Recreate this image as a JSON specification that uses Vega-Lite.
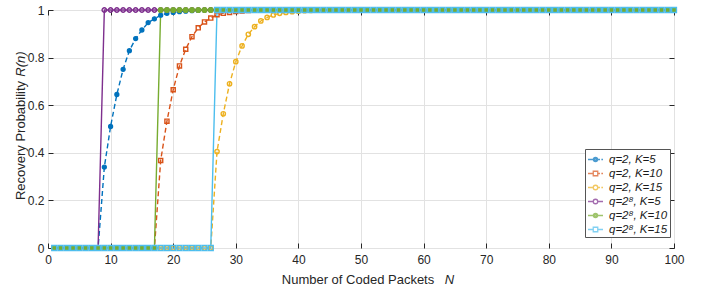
{
"$schema": "https://vega.github.io/schema/vega-lite/v6.json",
"width": 626,
"height": 238,
"autosize": {"type": "none"},
"padding": {"left": 48, "top": 10, "right": 37, "bottom": 41},
"background": "white",
"data": {"values": [
{"N":1,"s":"A","R":0},{"N":2,"s":"A","R":0},{"N":3,"s":"A","R":0},{"N":4,"s":"A","R":0},{"N":5,"s":"A","R":0},{"N":6,"s":"A","R":0},{"N":7,"s":"A","R":0},{"N":8,"s":"A","R":0},{"N":9,"s":"A","R":0.34},{"N":10,"s":"A","R":0.511},
{"N":11,"s":"A","R":0.645},{"N":12,"s":"A","R":0.751},{"N":13,"s":"A","R":0.829},{"N":14,"s":"A","R":0.88},{"N":15,"s":"A","R":0.916},{"N":16,"s":"A","R":0.947},{"N":17,"s":"A","R":0.963},{"N":18,"s":"A","R":0.978},{"N":19,"s":"A","R":0.986},{"N":20,"s":"A","R":0.99},
{"N":21,"s":"A","R":0.993},{"N":22,"s":"A","R":0.995},{"N":23,"s":"A","R":0.997},{"N":24,"s":"A","R":0.998},{"N":25,"s":"A","R":0.999},{"N":26,"s":"A","R":1},{"N":27,"s":"A","R":1},{"N":28,"s":"A","R":1},{"N":29,"s":"A","R":1},{"N":30,"s":"A","R":1},
{"N":31,"s":"A","R":1},{"N":32,"s":"A","R":1},{"N":33,"s":"A","R":1},{"N":34,"s":"A","R":1},{"N":35,"s":"A","R":1},{"N":36,"s":"A","R":1},{"N":37,"s":"A","R":1},{"N":38,"s":"A","R":1},{"N":39,"s":"A","R":1},{"N":40,"s":"A","R":1},
{"N":41,"s":"A","R":1},{"N":42,"s":"A","R":1},{"N":43,"s":"A","R":1},{"N":44,"s":"A","R":1},{"N":45,"s":"A","R":1},{"N":46,"s":"A","R":1},{"N":47,"s":"A","R":1},{"N":48,"s":"A","R":1},{"N":49,"s":"A","R":1},{"N":50,"s":"A","R":1},
{"N":51,"s":"A","R":1},{"N":52,"s":"A","R":1},{"N":53,"s":"A","R":1},{"N":54,"s":"A","R":1},{"N":55,"s":"A","R":1},{"N":56,"s":"A","R":1},{"N":57,"s":"A","R":1},{"N":58,"s":"A","R":1},{"N":59,"s":"A","R":1},{"N":60,"s":"A","R":1},
{"N":61,"s":"A","R":1},{"N":62,"s":"A","R":1},{"N":63,"s":"A","R":1},{"N":64,"s":"A","R":1},{"N":65,"s":"A","R":1},{"N":66,"s":"A","R":1},{"N":67,"s":"A","R":1},{"N":68,"s":"A","R":1},{"N":69,"s":"A","R":1},{"N":70,"s":"A","R":1},
{"N":71,"s":"A","R":1},{"N":72,"s":"A","R":1},{"N":73,"s":"A","R":1},{"N":74,"s":"A","R":1},{"N":75,"s":"A","R":1},{"N":76,"s":"A","R":1},{"N":77,"s":"A","R":1},{"N":78,"s":"A","R":1},{"N":79,"s":"A","R":1},{"N":80,"s":"A","R":1},
{"N":81,"s":"A","R":1},{"N":82,"s":"A","R":1},{"N":83,"s":"A","R":1},{"N":84,"s":"A","R":1},{"N":85,"s":"A","R":1},{"N":86,"s":"A","R":1},{"N":87,"s":"A","R":1},{"N":88,"s":"A","R":1},{"N":89,"s":"A","R":1},{"N":90,"s":"A","R":1},
{"N":91,"s":"A","R":1},{"N":92,"s":"A","R":1},{"N":93,"s":"A","R":1},{"N":94,"s":"A","R":1},{"N":95,"s":"A","R":1},{"N":96,"s":"A","R":1},{"N":97,"s":"A","R":1},{"N":98,"s":"A","R":1},{"N":99,"s":"A","R":1},{"N":100,"s":"A","R":1},
{"N":1,"s":"B","R":0},{"N":2,"s":"B","R":0},{"N":3,"s":"B","R":0},{"N":4,"s":"B","R":0},{"N":5,"s":"B","R":0},{"N":6,"s":"B","R":0},{"N":7,"s":"B","R":0},{"N":8,"s":"B","R":0},{"N":9,"s":"B","R":0},{"N":10,"s":"B","R":0},
{"N":11,"s":"B","R":0},{"N":12,"s":"B","R":0},{"N":13,"s":"B","R":0},{"N":14,"s":"B","R":0},{"N":15,"s":"B","R":0},{"N":16,"s":"B","R":0},{"N":17,"s":"B","R":0},{"N":18,"s":"B","R":0.368},{"N":19,"s":"B","R":0.533},{"N":20,"s":"B","R":0.665},
{"N":21,"s":"B","R":0.765},{"N":22,"s":"B","R":0.835},{"N":23,"s":"B","R":0.888},{"N":24,"s":"B","R":0.925},{"N":25,"s":"B","R":0.95},{"N":26,"s":"B","R":0.966},{"N":27,"s":"B","R":0.98},{"N":28,"s":"B","R":0.986},{"N":29,"s":"B","R":0.99},{"N":30,"s":"B","R":0.994},
{"N":31,"s":"B","R":0.996},{"N":32,"s":"B","R":0.998},{"N":33,"s":"B","R":0.999},{"N":34,"s":"B","R":1},{"N":35,"s":"B","R":1},{"N":36,"s":"B","R":1},{"N":37,"s":"B","R":1},{"N":38,"s":"B","R":1},{"N":39,"s":"B","R":1},{"N":40,"s":"B","R":1},
{"N":41,"s":"B","R":1},{"N":42,"s":"B","R":1},{"N":43,"s":"B","R":1},{"N":44,"s":"B","R":1},{"N":45,"s":"B","R":1},{"N":46,"s":"B","R":1},{"N":47,"s":"B","R":1},{"N":48,"s":"B","R":1},{"N":49,"s":"B","R":1},{"N":50,"s":"B","R":1},
{"N":51,"s":"B","R":1},{"N":52,"s":"B","R":1},{"N":53,"s":"B","R":1},{"N":54,"s":"B","R":1},{"N":55,"s":"B","R":1},{"N":56,"s":"B","R":1},{"N":57,"s":"B","R":1},{"N":58,"s":"B","R":1},{"N":59,"s":"B","R":1},{"N":60,"s":"B","R":1},
{"N":61,"s":"B","R":1},{"N":62,"s":"B","R":1},{"N":63,"s":"B","R":1},{"N":64,"s":"B","R":1},{"N":65,"s":"B","R":1},{"N":66,"s":"B","R":1},{"N":67,"s":"B","R":1},{"N":68,"s":"B","R":1},{"N":69,"s":"B","R":1},{"N":70,"s":"B","R":1},
{"N":71,"s":"B","R":1},{"N":72,"s":"B","R":1},{"N":73,"s":"B","R":1},{"N":74,"s":"B","R":1},{"N":75,"s":"B","R":1},{"N":76,"s":"B","R":1},{"N":77,"s":"B","R":1},{"N":78,"s":"B","R":1},{"N":79,"s":"B","R":1},{"N":80,"s":"B","R":1},
{"N":81,"s":"B","R":1},{"N":82,"s":"B","R":1},{"N":83,"s":"B","R":1},{"N":84,"s":"B","R":1},{"N":85,"s":"B","R":1},{"N":86,"s":"B","R":1},{"N":87,"s":"B","R":1},{"N":88,"s":"B","R":1},{"N":89,"s":"B","R":1},{"N":90,"s":"B","R":1},
{"N":91,"s":"B","R":1},{"N":92,"s":"B","R":1},{"N":93,"s":"B","R":1},{"N":94,"s":"B","R":1},{"N":95,"s":"B","R":1},{"N":96,"s":"B","R":1},{"N":97,"s":"B","R":1},{"N":98,"s":"B","R":1},{"N":99,"s":"B","R":1},{"N":100,"s":"B","R":1},
{"N":1,"s":"C","R":0},{"N":2,"s":"C","R":0},{"N":3,"s":"C","R":0},{"N":4,"s":"C","R":0},{"N":5,"s":"C","R":0},{"N":6,"s":"C","R":0},{"N":7,"s":"C","R":0},{"N":8,"s":"C","R":0},{"N":9,"s":"C","R":0},{"N":10,"s":"C","R":0},
{"N":11,"s":"C","R":0},{"N":12,"s":"C","R":0},{"N":13,"s":"C","R":0},{"N":14,"s":"C","R":0},{"N":15,"s":"C","R":0},{"N":16,"s":"C","R":0},{"N":17,"s":"C","R":0},{"N":18,"s":"C","R":0},{"N":19,"s":"C","R":0},{"N":20,"s":"C","R":0},
{"N":21,"s":"C","R":0},{"N":22,"s":"C","R":0},{"N":23,"s":"C","R":0},{"N":24,"s":"C","R":0},{"N":25,"s":"C","R":0},{"N":26,"s":"C","R":0},{"N":27,"s":"C","R":0.405},{"N":28,"s":"C","R":0.564},{"N":29,"s":"C","R":0.69},{"N":30,"s":"C","R":0.783},
{"N":31,"s":"C","R":0.849},{"N":32,"s":"C","R":0.898},{"N":33,"s":"C","R":0.93},{"N":34,"s":"C","R":0.954},{"N":35,"s":"C","R":0.969},{"N":36,"s":"C","R":0.979},{"N":37,"s":"C","R":0.986},{"N":38,"s":"C","R":0.99},{"N":39,"s":"C","R":0.993},{"N":40,"s":"C","R":0.995},
{"N":41,"s":"C","R":0.997},{"N":42,"s":"C","R":0.998},{"N":43,"s":"C","R":0.999},{"N":44,"s":"C","R":1},{"N":45,"s":"C","R":1},{"N":46,"s":"C","R":1},{"N":47,"s":"C","R":1},{"N":48,"s":"C","R":1},{"N":49,"s":"C","R":1},{"N":50,"s":"C","R":1},
{"N":51,"s":"C","R":1},{"N":52,"s":"C","R":1},{"N":53,"s":"C","R":1},{"N":54,"s":"C","R":1},{"N":55,"s":"C","R":1},{"N":56,"s":"C","R":1},{"N":57,"s":"C","R":1},{"N":58,"s":"C","R":1},{"N":59,"s":"C","R":1},{"N":60,"s":"C","R":1},
{"N":61,"s":"C","R":1},{"N":62,"s":"C","R":1},{"N":63,"s":"C","R":1},{"N":64,"s":"C","R":1},{"N":65,"s":"C","R":1},{"N":66,"s":"C","R":1},{"N":67,"s":"C","R":1},{"N":68,"s":"C","R":1},{"N":69,"s":"C","R":1},{"N":70,"s":"C","R":1},
{"N":71,"s":"C","R":1},{"N":72,"s":"C","R":1},{"N":73,"s":"C","R":1},{"N":74,"s":"C","R":1},{"N":75,"s":"C","R":1},{"N":76,"s":"C","R":1},{"N":77,"s":"C","R":1},{"N":78,"s":"C","R":1},{"N":79,"s":"C","R":1},{"N":80,"s":"C","R":1},
{"N":81,"s":"C","R":1},{"N":82,"s":"C","R":1},{"N":83,"s":"C","R":1},{"N":84,"s":"C","R":1},{"N":85,"s":"C","R":1},{"N":86,"s":"C","R":1},{"N":87,"s":"C","R":1},{"N":88,"s":"C","R":1},{"N":89,"s":"C","R":1},{"N":90,"s":"C","R":1},
{"N":91,"s":"C","R":1},{"N":92,"s":"C","R":1},{"N":93,"s":"C","R":1},{"N":94,"s":"C","R":1},{"N":95,"s":"C","R":1},{"N":96,"s":"C","R":1},{"N":97,"s":"C","R":1},{"N":98,"s":"C","R":1},{"N":99,"s":"C","R":1},{"N":100,"s":"C","R":1},
{"N":1,"s":"D","R":0},{"N":2,"s":"D","R":0},{"N":3,"s":"D","R":0},{"N":4,"s":"D","R":0},{"N":5,"s":"D","R":0},{"N":6,"s":"D","R":0},{"N":7,"s":"D","R":0},{"N":8,"s":"D","R":0},{"N":9,"s":"D","R":1},{"N":10,"s":"D","R":1},
{"N":11,"s":"D","R":1},{"N":12,"s":"D","R":1},{"N":13,"s":"D","R":1},{"N":14,"s":"D","R":1},{"N":15,"s":"D","R":1},{"N":16,"s":"D","R":1},{"N":17,"s":"D","R":1},{"N":18,"s":"D","R":1},{"N":19,"s":"D","R":1},{"N":20,"s":"D","R":1},
{"N":21,"s":"D","R":1},{"N":22,"s":"D","R":1},{"N":23,"s":"D","R":1},{"N":24,"s":"D","R":1},{"N":25,"s":"D","R":1},{"N":26,"s":"D","R":1},{"N":27,"s":"D","R":1},{"N":28,"s":"D","R":1},{"N":29,"s":"D","R":1},{"N":30,"s":"D","R":1},
{"N":31,"s":"D","R":1},{"N":32,"s":"D","R":1},{"N":33,"s":"D","R":1},{"N":34,"s":"D","R":1},{"N":35,"s":"D","R":1},{"N":36,"s":"D","R":1},{"N":37,"s":"D","R":1},{"N":38,"s":"D","R":1},{"N":39,"s":"D","R":1},{"N":40,"s":"D","R":1},
{"N":41,"s":"D","R":1},{"N":42,"s":"D","R":1},{"N":43,"s":"D","R":1},{"N":44,"s":"D","R":1},{"N":45,"s":"D","R":1},{"N":46,"s":"D","R":1},{"N":47,"s":"D","R":1},{"N":48,"s":"D","R":1},{"N":49,"s":"D","R":1},{"N":50,"s":"D","R":1},
{"N":51,"s":"D","R":1},{"N":52,"s":"D","R":1},{"N":53,"s":"D","R":1},{"N":54,"s":"D","R":1},{"N":55,"s":"D","R":1},{"N":56,"s":"D","R":1},{"N":57,"s":"D","R":1},{"N":58,"s":"D","R":1},{"N":59,"s":"D","R":1},{"N":60,"s":"D","R":1},
{"N":61,"s":"D","R":1},{"N":62,"s":"D","R":1},{"N":63,"s":"D","R":1},{"N":64,"s":"D","R":1},{"N":65,"s":"D","R":1},{"N":66,"s":"D","R":1},{"N":67,"s":"D","R":1},{"N":68,"s":"D","R":1},{"N":69,"s":"D","R":1},{"N":70,"s":"D","R":1},
{"N":71,"s":"D","R":1},{"N":72,"s":"D","R":1},{"N":73,"s":"D","R":1},{"N":74,"s":"D","R":1},{"N":75,"s":"D","R":1},{"N":76,"s":"D","R":1},{"N":77,"s":"D","R":1},{"N":78,"s":"D","R":1},{"N":79,"s":"D","R":1},{"N":80,"s":"D","R":1},
{"N":81,"s":"D","R":1},{"N":82,"s":"D","R":1},{"N":83,"s":"D","R":1},{"N":84,"s":"D","R":1},{"N":85,"s":"D","R":1},{"N":86,"s":"D","R":1},{"N":87,"s":"D","R":1},{"N":88,"s":"D","R":1},{"N":89,"s":"D","R":1},{"N":90,"s":"D","R":1},
{"N":91,"s":"D","R":1},{"N":92,"s":"D","R":1},{"N":93,"s":"D","R":1},{"N":94,"s":"D","R":1},{"N":95,"s":"D","R":1},{"N":96,"s":"D","R":1},{"N":97,"s":"D","R":1},{"N":98,"s":"D","R":1},{"N":99,"s":"D","R":1},{"N":100,"s":"D","R":1},
{"N":1,"s":"E","R":0},{"N":2,"s":"E","R":0},{"N":3,"s":"E","R":0},{"N":4,"s":"E","R":0},{"N":5,"s":"E","R":0},{"N":6,"s":"E","R":0},{"N":7,"s":"E","R":0},{"N":8,"s":"E","R":0},{"N":9,"s":"E","R":0},{"N":10,"s":"E","R":0},
{"N":11,"s":"E","R":0},{"N":12,"s":"E","R":0},{"N":13,"s":"E","R":0},{"N":14,"s":"E","R":0},{"N":15,"s":"E","R":0},{"N":16,"s":"E","R":0},{"N":17,"s":"E","R":0},{"N":18,"s":"E","R":1},{"N":19,"s":"E","R":1},{"N":20,"s":"E","R":1},
{"N":21,"s":"E","R":1},{"N":22,"s":"E","R":1},{"N":23,"s":"E","R":1},{"N":24,"s":"E","R":1},{"N":25,"s":"E","R":1},{"N":26,"s":"E","R":1},{"N":27,"s":"E","R":1},{"N":28,"s":"E","R":1},{"N":29,"s":"E","R":1},{"N":30,"s":"E","R":1},
{"N":31,"s":"E","R":1},{"N":32,"s":"E","R":1},{"N":33,"s":"E","R":1},{"N":34,"s":"E","R":1},{"N":35,"s":"E","R":1},{"N":36,"s":"E","R":1},{"N":37,"s":"E","R":1},{"N":38,"s":"E","R":1},{"N":39,"s":"E","R":1},{"N":40,"s":"E","R":1},
{"N":41,"s":"E","R":1},{"N":42,"s":"E","R":1},{"N":43,"s":"E","R":1},{"N":44,"s":"E","R":1},{"N":45,"s":"E","R":1},{"N":46,"s":"E","R":1},{"N":47,"s":"E","R":1},{"N":48,"s":"E","R":1},{"N":49,"s":"E","R":1},{"N":50,"s":"E","R":1},
{"N":51,"s":"E","R":1},{"N":52,"s":"E","R":1},{"N":53,"s":"E","R":1},{"N":54,"s":"E","R":1},{"N":55,"s":"E","R":1},{"N":56,"s":"E","R":1},{"N":57,"s":"E","R":1},{"N":58,"s":"E","R":1},{"N":59,"s":"E","R":1},{"N":60,"s":"E","R":1},
{"N":61,"s":"E","R":1},{"N":62,"s":"E","R":1},{"N":63,"s":"E","R":1},{"N":64,"s":"E","R":1},{"N":65,"s":"E","R":1},{"N":66,"s":"E","R":1},{"N":67,"s":"E","R":1},{"N":68,"s":"E","R":1},{"N":69,"s":"E","R":1},{"N":70,"s":"E","R":1},
{"N":71,"s":"E","R":1},{"N":72,"s":"E","R":1},{"N":73,"s":"E","R":1},{"N":74,"s":"E","R":1},{"N":75,"s":"E","R":1},{"N":76,"s":"E","R":1},{"N":77,"s":"E","R":1},{"N":78,"s":"E","R":1},{"N":79,"s":"E","R":1},{"N":80,"s":"E","R":1},
{"N":81,"s":"E","R":1},{"N":82,"s":"E","R":1},{"N":83,"s":"E","R":1},{"N":84,"s":"E","R":1},{"N":85,"s":"E","R":1},{"N":86,"s":"E","R":1},{"N":87,"s":"E","R":1},{"N":88,"s":"E","R":1},{"N":89,"s":"E","R":1},{"N":90,"s":"E","R":1},
{"N":91,"s":"E","R":1},{"N":92,"s":"E","R":1},{"N":93,"s":"E","R":1},{"N":94,"s":"E","R":1},{"N":95,"s":"E","R":1},{"N":96,"s":"E","R":1},{"N":97,"s":"E","R":1},{"N":98,"s":"E","R":1},{"N":99,"s":"E","R":1},{"N":100,"s":"E","R":1},
{"N":1,"s":"F","R":0},{"N":2,"s":"F","R":0},{"N":3,"s":"F","R":0},{"N":4,"s":"F","R":0},{"N":5,"s":"F","R":0},{"N":6,"s":"F","R":0},{"N":7,"s":"F","R":0},{"N":8,"s":"F","R":0},{"N":9,"s":"F","R":0},{"N":10,"s":"F","R":0},
{"N":11,"s":"F","R":0},{"N":12,"s":"F","R":0},{"N":13,"s":"F","R":0},{"N":14,"s":"F","R":0},{"N":15,"s":"F","R":0},{"N":16,"s":"F","R":0},{"N":17,"s":"F","R":0},{"N":18,"s":"F","R":0},{"N":19,"s":"F","R":0},{"N":20,"s":"F","R":0},
{"N":21,"s":"F","R":0},{"N":22,"s":"F","R":0},{"N":23,"s":"F","R":0},{"N":24,"s":"F","R":0},{"N":25,"s":"F","R":0},{"N":26,"s":"F","R":0},{"N":27,"s":"F","R":1},{"N":28,"s":"F","R":1},{"N":29,"s":"F","R":1},{"N":30,"s":"F","R":1},
{"N":31,"s":"F","R":1},{"N":32,"s":"F","R":1},{"N":33,"s":"F","R":1},{"N":34,"s":"F","R":1},{"N":35,"s":"F","R":1},{"N":36,"s":"F","R":1},{"N":37,"s":"F","R":1},{"N":38,"s":"F","R":1},{"N":39,"s":"F","R":1},{"N":40,"s":"F","R":1},
{"N":41,"s":"F","R":1},{"N":42,"s":"F","R":1},{"N":43,"s":"F","R":1},{"N":44,"s":"F","R":1},{"N":45,"s":"F","R":1},{"N":46,"s":"F","R":1},{"N":47,"s":"F","R":1},{"N":48,"s":"F","R":1},{"N":49,"s":"F","R":1},{"N":50,"s":"F","R":1},
{"N":51,"s":"F","R":1},{"N":52,"s":"F","R":1},{"N":53,"s":"F","R":1},{"N":54,"s":"F","R":1},{"N":55,"s":"F","R":1},{"N":56,"s":"F","R":1},{"N":57,"s":"F","R":1},{"N":58,"s":"F","R":1},{"N":59,"s":"F","R":1},{"N":60,"s":"F","R":1},
{"N":61,"s":"F","R":1},{"N":62,"s":"F","R":1},{"N":63,"s":"F","R":1},{"N":64,"s":"F","R":1},{"N":65,"s":"F","R":1},{"N":66,"s":"F","R":1},{"N":67,"s":"F","R":1},{"N":68,"s":"F","R":1},{"N":69,"s":"F","R":1},{"N":70,"s":"F","R":1},
{"N":71,"s":"F","R":1},{"N":72,"s":"F","R":1},{"N":73,"s":"F","R":1},{"N":74,"s":"F","R":1},{"N":75,"s":"F","R":1},{"N":76,"s":"F","R":1},{"N":77,"s":"F","R":1},{"N":78,"s":"F","R":1},{"N":79,"s":"F","R":1},{"N":80,"s":"F","R":1},
{"N":81,"s":"F","R":1},{"N":82,"s":"F","R":1},{"N":83,"s":"F","R":1},{"N":84,"s":"F","R":1},{"N":85,"s":"F","R":1},{"N":86,"s":"F","R":1},{"N":87,"s":"F","R":1},{"N":88,"s":"F","R":1},{"N":89,"s":"F","R":1},{"N":90,"s":"F","R":1},
{"N":91,"s":"F","R":1},{"N":92,"s":"F","R":1},{"N":93,"s":"F","R":1},{"N":94,"s":"F","R":1},{"N":95,"s":"F","R":1},{"N":96,"s":"F","R":1},{"N":97,"s":"F","R":1},{"N":98,"s":"F","R":1},{"N":99,"s":"F","R":1},{"N":100,"s":"F","R":1}
]},
"layer": [
{
"mark": {"type": "line", "strokeWidth": 1.4},
"encoding": {
"x": {"field": "N", "type": "quantitative", "scale": {"domain": [0, 100], "nice": false, "zero": false},
"axis": {"orient": "bottom", "values": [0,10,20,30,40,50,60,70,80,90,100], "format": "d", "grid": true, "ticks": false, "domain": false, "labelFlush": false, "labelOverlap": false, "labelPadding": 15.5, "labelBaseline": "alphabetic", "title": "Number of Coded Packets", "titleX": 309.5, "titleY": 35, "titleBaseline": "alphabetic", "titleAlign": "center"}},
"y": {"field": "R", "type": "quantitative", "scale": {"domain": [0, 1], "nice": false},
"axis": {"orient": "left", "values": [0,0.2,0.4,0.6,0.8,1], "format": "~g", "grid": true, "ticks": false, "domain": false, "labelFlush": false, "labelOverlap": false, "labelPadding": 4, "labelBaseline": "middle", "title": "Recovery Probability", "titleX": -24, "titleY": 130, "titleAngle": 270, "titleBaseline": "alphabetic", "titleAlign": "center"}},
"color": {"field": "s", "type": "nominal", "scale": {"domain": ["A","B","C","D","E","F"], "range": ["#0072BD","#D95319","#EDB120","#7E2F8E","#77AC30","#4DBEEE"]}, "legend": null},
"strokeDash": {"field": "s", "type": "nominal", "scale": {"domain": ["A","B","C","D","E","F"], "range": [[5,3],[5,3],[5,3],[1,0],[1,0],[1,0]]}, "legend": null}
}
},
{
"mark": {"type": "point", "filled": false, "strokeWidth": 1.4, "opacity": 1},
"encoding": {
"x": {"field": "N", "type": "quantitative", "scale": {"domain": [0, 100], "nice": false, "zero": false},
"axis": {"orient": "top", "values": [0,10,20,30,40,50,60,70,80,90,100], "labels": false, "grid": false, "ticks": true, "tickSize": -5, "domain": false, "title": null}},
"y": {"field": "R", "type": "quantitative", "scale": {"domain": [0, 1], "nice": false},
"axis": {"orient": "right", "values": [0,0.2,0.4,0.6,0.8,1], "labels": false, "grid": false, "ticks": true, "tickSize": -5, "domain": false, "title": null}},
"color": {"field": "s", "type": "nominal", "scale": {"domain": ["A","B","C","D","E","F"], "range": ["#0072BD","#D95319","#EDB120","#7E2F8E","#77AC30","#4DBEEE"]}, "legend": null},
"fill": {"field": "s", "type": "nominal", "scale": {"domain": ["A","B","C","D","E","F"], "range": ["#0072BD","transparent","transparent","transparent","#77AC30","transparent"]}, "legend": null},
"shape": {"field": "s", "type": "nominal", "scale": {"domain": ["A","B","C","D","E","F"], "range": ["circle","square","circle","circle","circle","square"]}, "legend": null},
"size": {"field": "s", "type": "nominal", "scale": {"domain": ["A","B","C","D","E","F"], "range": [15, 24, 26, 26, 15, 24]}, "legend": null}
}
},
{
"transform": [{"filter": "datum.N < 0"}],
"mark": {"type": "point", "filled": false, "strokeWidth": 1.3},
"encoding": {
"x": {"field": "N", "type": "quantitative", "scale": {"domain": [0, 100], "nice": false, "zero": false},
"axis": {"orient": "bottom", "labels": false, "ticks": false, "grid": false, "domain": false, "title": "N", "titleX": 401, "titleY": 35, "titleBaseline": "alphabetic", "titleAlign": "center", "titleFontStyle": "italic"}},
"y": {"field": "R", "type": "quantitative", "scale": {"domain": [0, 1], "nice": false},
"axis": {"orient": "left", "labels": false, "ticks": false, "grid": false, "domain": false, "title": "R(n)", "titleX": -24, "titleY": 53.5, "titleAngle": 270, "titleBaseline": "alphabetic", "titleAlign": "center", "titleFontStyle": "italic"}},
"stroke": {"field": "s", "type": "nominal", "scale": {"domain": ["A","B","C","D","E","F"], "range": ["#0072BD","#D95319","#EDB120","#7E2F8E","#77AC30","#4DBEEE"]},
"legend": {"title": null, "labelExpr": "datum.label == 'A' ? 'q=2, K=5' : datum.label == 'B' ? 'q=2, K=10' : datum.label == 'C' ? 'q=2, K=15' : datum.label == 'D' ? 'q=2⁸, K=5' : datum.label == 'E' ? 'q=2⁸, K=10' : 'q=2⁸, K=15'"}},
"shape": {"field": "s", "type": "nominal", "scale": {"domain": ["A","B","C","D","E","F"], "range": [
"M-1,0H-0.3M0.3,0H0.6M0.78,0H1M0.28,0A0.28,0.28 0 1,1 -0.28,0A0.28,0.28 0 1,1 0.28,0M0.16,0A0.16,0.16 0 1,1 -0.16,0A0.16,0.16 0 1,1 0.16,0M0.05,0A0.05,0.05 0 1,1 -0.05,0A0.05,0.05 0 1,1 0.05,0",
"M-1,0H-0.3M0.3,0H0.6M0.78,0H1M-0.3,-0.3H0.3V0.3H-0.3Z",
"M-1,0H-0.3M0.3,0H0.6M0.78,0H1M0.3,0A0.3,0.3 0 1,1 -0.3,0A0.3,0.3 0 1,1 0.3,0",
"M-1,0H-0.3M0.3,0H1M0.3,0A0.3,0.3 0 1,1 -0.3,0A0.3,0.3 0 1,1 0.3,0",
"M-1,0H-0.3M0.3,0H1M0.28,0A0.28,0.28 0 1,1 -0.28,0A0.28,0.28 0 1,1 0.28,0M0.16,0A0.16,0.16 0 1,1 -0.16,0A0.16,0.16 0 1,1 0.16,0M0.05,0A0.05,0.05 0 1,1 -0.05,0A0.05,0.05 0 1,1 0.05,0",
"M-1,0H-0.3M0.3,0H1M-0.3,-0.3H0.3V0.3H-0.3Z"
]},
"legend": {"title": null, "labelExpr": "datum.label == 'A' ? 'q=2, K=5' : datum.label == 'B' ? 'q=2, K=10' : datum.label == 'C' ? 'q=2, K=15' : datum.label == 'D' ? 'q=2⁸, K=5' : datum.label == 'E' ? 'q=2⁸, K=10' : 'q=2⁸, K=15'"}}
}
},
{
"transform": [{"filter": "datum.N < 0"}],
"mark": {"type": "point"},
"encoding": {
"x": {"field": "N", "type": "quantitative", "scale": {"domain": [0, 100], "nice": false, "zero": false},
"axis": {"orient": "bottom", "values": [0,10,20,30,40,50,60,70,80,90,100], "labels": false, "grid": false, "ticks": true, "tickSize": -5, "domain": false, "title": null}},
"y": {"field": "R", "type": "quantitative", "scale": {"domain": [0, 1], "nice": false},
"axis": {"orient": "left", "values": [0,0.2,0.4,0.6,0.8,1], "labels": false, "grid": false, "ticks": true, "tickSize": -5, "domain": false, "title": null}}
}
}
],
"resolve": {"scale": {"shape": "independent", "stroke": "independent"}, "axis": {"x": "independent", "y": "independent"}},
"config": {
"font": "Liberation Sans",
"view": {"stroke": "#262626", "strokeWidth": 1},
"axis": {"labelFont": "Liberation Sans", "titleFont": "Liberation Sans", "labelColor": "#262626", "titleColor": "#262626", "labelFontSize": 12, "titleFontSize": 13, "titleFontWeight": "normal", "gridColor": "#e2e2e2", "gridWidth": 1, "gridOpacity": 1, "tickColor": "#262626", "tickWidth": 1},
"legend": {"orient": "none", "legendX": 537, "legendY": 139, "padding": 2, "rowPadding": 0, "symbolSize": 225, "symbolStrokeWidth": 1.3, "symbolFillColor": "transparent", "labelFont": "Liberation Sans", "labelFontSize": 11.5, "labelFontStyle": "italic", "labelColor": "#1a1a1a", "labelOffset": 5, "strokeColor": "#555555", "fillColor": "#ffffff", "cornerRadius": 0, "labelLimit": 200}
}
}
